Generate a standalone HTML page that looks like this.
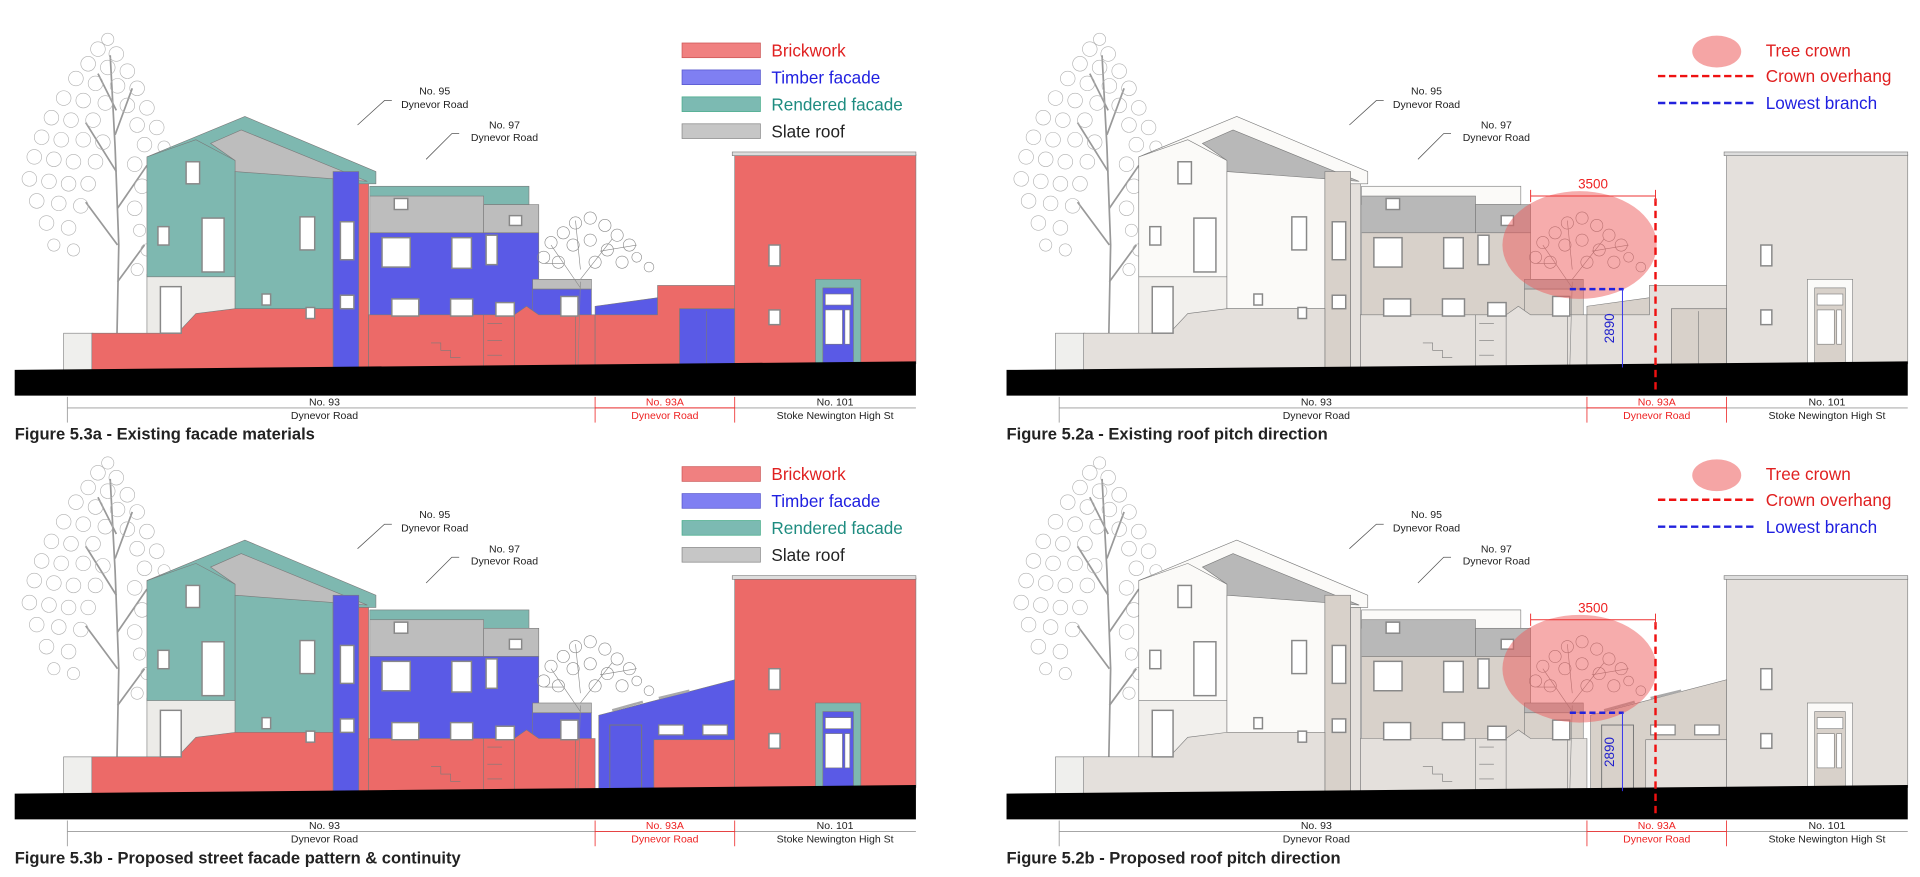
<!DOCTYPE html>
<html><head><meta charset="utf-8"><style>
html,body{margin:0;padding:0;background:#fff;}
svg{display:block;}
text{font-family:"Liberation Sans",Arial,sans-serif;}
.l{font-size:8.6px;fill:#222;text-anchor:middle;}
.cap{font-size:13.5px;font-weight:bold;fill:#222;}
.lg{font-size:14px;}
</style></head><body>
<svg width="1920" height="877" viewBox="0 0 1568 716" xmlns="http://www.w3.org/2000/svg">
<defs>
<g id="tree">
 <g stroke="#999" stroke-width="1.4" fill="none">
  <path d="M95 300 L97 200 L94 120 L90 45"/><path d="M96 200 L70 165 M96 170 L120 135 M95 140 L70 100 M94 110 L108 72 M96 230 L118 200 M95 90 L80 60"/>
 </g>
 <g fill="none" stroke="#b0b0b0" stroke-width="0.5">
  <circle cx="88" cy="32" r="5"/><circle cx="80" cy="40" r="6"/><circle cx="95" cy="44" r="6"/><circle cx="72" cy="52" r="6"/><circle cx="88" cy="55" r="6"/>
  <circle cx="104" cy="58" r="6"/><circle cx="62" cy="64" r="6"/><circle cx="78" cy="68" r="6"/><circle cx="96" cy="70" r="6"/><circle cx="112" cy="72" r="6"/>
  <circle cx="52" cy="80" r="6"/><circle cx="68" cy="82" r="6"/><circle cx="86" cy="84" r="6"/><circle cx="104" cy="86" r="6"/><circle cx="120" cy="88" r="6"/>
  <circle cx="42" cy="96" r="6"/><circle cx="58" cy="98" r="6"/><circle cx="76" cy="98" r="6"/><circle cx="112" cy="102" r="6"/><circle cx="128" cy="104" r="6"/>
  <circle cx="34" cy="112" r="6"/><circle cx="50" cy="114" r="6"/><circle cx="68" cy="114" r="6"/><circle cx="84" cy="116" r="6"/><circle cx="118" cy="118" r="6"/><circle cx="134" cy="120" r="5"/>
  <circle cx="28" cy="128" r="6"/><circle cx="44" cy="130" r="6"/><circle cx="60" cy="132" r="6"/><circle cx="78" cy="132" r="6"/><circle cx="110" cy="134" r="6"/><circle cx="128" cy="136" r="6"/>
  <circle cx="24" cy="146" r="6"/><circle cx="40" cy="148" r="6"/><circle cx="56" cy="150" r="6"/><circle cx="72" cy="150" r="6"/><circle cx="116" cy="152" r="6"/><circle cx="132" cy="154" r="5"/>
  <circle cx="30" cy="164" r="6"/><circle cx="48" cy="166" r="6"/><circle cx="66" cy="168" r="6"/><circle cx="110" cy="170" r="6"/><circle cx="126" cy="172" r="5"/>
  <circle cx="38" cy="182" r="6"/><circle cx="56" cy="186" r="6"/><circle cx="114" cy="188" r="5"/><circle cx="44" cy="200" r="5"/><circle cx="120" cy="204" r="5"/>
  <circle cx="60" cy="204" r="5"/><circle cx="112" cy="220" r="5"/><circle cx="128" cy="230" r="4"/>
 </g>
</g>
<g id="stree" stroke="#888" stroke-width="0.5" fill="none">
 <path d="M472 300 L474 230 M474 235 L450 200 M474 228 L500 195 M474 220 L470 180 M490 205 L520 200 M460 215 L445 215"/>
 <circle cx="450" cy="198" r="5"/><circle cx="460" cy="190" r="5"/><circle cx="470" cy="182" r="5"/><circle cx="482" cy="178" r="5"/><circle cx="494" cy="184" r="5"/>
 <circle cx="504" cy="192" r="5"/><circle cx="514" cy="200" r="5"/><circle cx="520" cy="210" r="4"/><circle cx="444" cy="210" r="5"/><circle cx="456" cy="214" r="5"/>
 <circle cx="468" cy="200" r="5"/><circle cx="482" cy="196" r="5"/><circle cx="496" cy="204" r="5"/><circle cx="508" cy="214" r="5"/><circle cx="486" cy="214" r="5"/><circle cx="530" cy="218" r="4"/>
</g>
<g id="bld" stroke="#7a7a7a" stroke-width="0.5">
 <rect x="52" y="272" width="24" height="30" fill="#efefed"/>
 <rect x="120" y="224" width="72" height="50" style="fill:var(--w)"/>
 <polygon points="120,128 200,95 307,140 307,150 272,150 272,140 192,140 192,226 120,226" style="fill:var(--r)"/>
 <rect x="192" y="140" width="80" height="112" style="fill:var(--r)"/>
 <polygon points="172,117 197,106 300,148 192,140 192,131" style="fill:var(--s)"/>
 <polyline points="120,128 160,114 192,131" fill="none"/>
 <rect x="272" y="140" width="21" height="162" style="fill:var(--t)"/>
 <rect x="293" y="150" width="8" height="152" style="fill:var(--b)"/>
 <rect x="302" y="152" width="130" height="15" style="fill:var(--r)"/>
 <rect x="302" y="160" width="93" height="30" style="fill:var(--s)"/>
 <rect x="395" y="167" width="45" height="23" style="fill:var(--s)"/>
 <rect x="302" y="190" width="138" height="68" style="fill:var(--t)"/>
 <rect x="435" y="228" width="48" height="8" style="fill:var(--s)"/>
 <rect x="435" y="236" width="48" height="22" style="fill:var(--t)"/>
 <polygon points="75,272 145,272 160,256 192,252 272,252 272,302 75,302" style="fill:var(--b)"/>
 <polygon points="301,257 420,257 430,250 440,257 486,257 486,300 301,301" style="fill:var(--b)"/>
 <path d="M352 280 h8 v6 h8 v6 h8 M398 264 h12 M398 278 h12 M398 290 h12 M395 257 v44 M420 257 v44 M470 257 v43" fill="none"/>
 <rect x="600" y="126" width="148" height="171" style="fill:var(--b)"/>
 <rect x="598" y="124" width="150" height="3" fill="#ddd"/>
 <rect x="666" y="228" width="37" height="69" style="fill:var(--r)"/>
 <rect x="672" y="235" width="25" height="62" style="fill:var(--t)"/>
 <rect x="674" y="240" width="21" height="9" fill="#fff"/><rect x="674" y="253" width="14" height="28" fill="#fff"/><rect x="690" y="253" width="4" height="28" fill="#fff"/>
 <g fill="#fff" stroke="#888" stroke-width="1.2">
  <rect x="152" y="132" width="11" height="18"/><rect x="165" y="178" width="18" height="44"/><rect x="129" y="185" width="9" height="15"/>
  <rect x="245" y="177" width="12" height="27"/><rect x="131" y="234" width="17" height="38"/><rect x="214" y="240" width="7" height="9"/>
  <rect x="250" y="251" width="7" height="9"/><rect x="278" y="181" width="11" height="31"/><rect x="278" y="241" width="11" height="11"/>
  <rect x="312" y="194" width="23" height="24"/><rect x="369" y="194" width="16" height="25"/><rect x="397" y="192" width="9" height="24"/>
  <rect x="320" y="244" width="22" height="14"/><rect x="368" y="244" width="18" height="14"/><rect x="405" y="247" width="15" height="11"/>
  <rect x="458" y="242" width="14" height="16"/><rect x="322" y="162" width="11" height="9"/><rect x="416" y="176" width="10" height="8"/>
  <rect x="628" y="200" width="9" height="17"/><rect x="628" y="253" width="9" height="12"/>
 </g>
</g>
<g id="x93">
 <polygon points="486,250 537,243 537,257 486,257" style="fill:var(--t)" stroke="#7a7a7a" stroke-width="0.5"/>
 <polygon points="486,257 537,257 537,233 600,233 600,300 486,300" style="fill:var(--b)" stroke="#7a7a7a" stroke-width="0.5"/>
 <rect x="555" y="252" width="45" height="47" style="fill:var(--t)" stroke="#7a7a7a" stroke-width="0.6"/>
 <line x1="577" y1="254" x2="577" y2="299" stroke="#7a7a7a" stroke-width="0.5"/>
</g>
<g id="p93">
 <polygon points="489,238 600,209 600,300 489,300" style="fill:var(--t)" stroke="#7a7a7a" stroke-width="0.5"/>
 <path d="M500 234 l25 -7 M538 224 l25 -6" stroke="#aaa" stroke-width="2"/>
 <rect x="498" y="246" width="26" height="54" style="fill:var(--t)" stroke="#777" stroke-width="0.8"/>
 <rect x="534" y="258" width="66" height="42" style="fill:var(--b)" stroke="#7a7a7a" stroke-width="0.5"/>
 <rect x="538" y="246" width="20" height="8" fill="#fff" stroke="#888"/><rect x="574" y="246" width="20" height="8" fill="#fff" stroke="#888"/>
</g>
<g id="ground">
 <polygon points="12,302 748,295 748,323 12,323" fill="#000"/>
 <line x1="55" y1="333" x2="748" y2="333" stroke="#999" stroke-width="0.7"/>
 <line x1="55" y1="324" x2="55" y2="345" stroke="#999" stroke-width="0.7"/>
 <line x1="486" y1="333" x2="600" y2="333" stroke="#e33" stroke-width="0.8"/>
 <line x1="486" y1="324" x2="486" y2="345" stroke="#e33" stroke-width="0.7"/>
 <line x1="600" y1="324" x2="600" y2="345" stroke="#e33" stroke-width="0.7"/>
</g>
</defs>

<g>
 <use href="#tree"/>
 <use href="#bld" style="--b:#ec6a68;--t:#5a5ae6;--r:#7eb8b0;--s:#bdbdbd;--w:#ecebe8"/>
 <use href="#stree"/>
 <use href="#x93" style="--b:#ec6a68;--t:#5a5ae6;--r:#7eb8b0"/>
 <use href="#ground"/>
</g>
<g transform="translate(0,346)">
 <use href="#tree"/>
 <use href="#bld" style="--b:#ec6a68;--t:#5a5ae6;--r:#7eb8b0;--s:#bdbdbd;--w:#ecebe8"/>
 <use href="#stree"/>
 <use href="#p93" style="--b:#ec6a68;--t:#5a5ae6"/>
 <use href="#ground"/>
</g>
<g transform="translate(810,0)">
 <use href="#tree"/>
 <use href="#bld" style="--b:#e4e0dc;--t:#d8d1ca;--r:#fbfaf8;--s:#b8b8b8;--w:#f2f0ed"/>
 <use href="#stree"/>
 <use href="#x93" style="--b:#e4e0dc;--t:#d8d1ca;--r:#fbfaf8"/>
 <use href="#ground"/>
</g>
<g transform="translate(810,346)">
 <use href="#tree"/>
 <use href="#bld" style="--b:#e4e0dc;--t:#d8d1ca;--r:#fbfaf8;--s:#b8b8b8;--w:#f2f0ed"/>
 <use href="#stree"/>
 <use href="#p93" style="--b:#e4e0dc;--t:#d8d1ca"/>
 <use href="#ground"/>
</g>

<g>
 <ellipse cx="1290" cy="200" rx="63" ry="44" fill="rgba(238,90,90,0.5)"/>
 <line x1="1352" y1="162" x2="1352" y2="318" stroke="#e11" stroke-width="2" stroke-dasharray="6,4"/>
 <path d="M1250 160 H1352 M1250 155 v10 M1352 155 v10" stroke="#e33" stroke-width="0.8"/>
 <text x="1301" y="154" font-size="11" fill="#e22" text-anchor="middle">3500</text>
 <line x1="1282" y1="236" x2="1326" y2="236" stroke="#22d" stroke-width="2" stroke-dasharray="5,3"/>
 <line x1="1325" y1="236" x2="1325" y2="300" stroke="#33e" stroke-width="0.8"/>
 <text transform="translate(1318,268) rotate(-90)" font-size="11" fill="#22c" text-anchor="middle">2890</text>
</g>
<g transform="translate(0,346)">
 <ellipse cx="1290" cy="200" rx="63" ry="44" fill="rgba(238,90,90,0.5)"/>
 <line x1="1352" y1="162" x2="1352" y2="318" stroke="#e11" stroke-width="2" stroke-dasharray="6,4"/>
 <path d="M1250 160 H1352 M1250 155 v10 M1352 155 v10" stroke="#e33" stroke-width="0.8"/>
 <text x="1301" y="154" font-size="11" fill="#e22" text-anchor="middle">3500</text>
 <line x1="1282" y1="236" x2="1326" y2="236" stroke="#22d" stroke-width="2" stroke-dasharray="5,3"/>
 <line x1="1325" y1="236" x2="1325" y2="300" stroke="#33e" stroke-width="0.8"/>
 <text transform="translate(1318,268) rotate(-90)" font-size="11" fill="#22c" text-anchor="middle">2890</text>
</g>

<g>
 <text class="l" x="355" y="77">No. 95</text><text class="l" x="355" y="88">Dynevor Road</text>
 <path d="M320 82 h-6 l-22 20" stroke="#555" fill="none" stroke-width="0.6"/>
 <text class="l" x="412" y="105">No. 97</text><text class="l" x="412" y="115">Dynevor Road</text>
 <path d="M375 109 h-6 l-21 21" stroke="#555" fill="none" stroke-width="0.6"/>
 <text class="l" x="265" y="331">No. 93</text><text class="l" x="265" y="342">Dynevor Road</text>
 <text class="l" x="543" y="331" style="fill:#e22">No. 93A</text><text class="l" x="543" y="342" style="fill:#e22">Dynevor Road</text>
 <text class="l" x="682" y="331">No. 101</text><text class="l" x="682" y="342">Stoke Newington High St</text>
 <text class="cap" x="12" y="359">Figure 5.3a - Existing facade materials</text>
 <rect x="557" y="35" width="64" height="12" fill="#f08080" stroke="#c55" stroke-width="0.6"/>
 <rect x="557" y="57" width="64" height="12" fill="#7f7ff2" stroke="#55c" stroke-width="0.6"/>
 <rect x="557" y="79" width="64" height="12" fill="#7cbab2" stroke="#4a8" stroke-width="0.6"/>
 <rect x="557" y="101" width="64" height="12" fill="#c6c6c6" stroke="#888" stroke-width="0.6"/>
 <text class="lg" x="630" y="46" fill="#e02020">Brickwork</text>
 <text class="lg" x="630" y="68" fill="#2020e0">Timber facade</text>
 <text class="lg" x="630" y="90" fill="#1e8c80">Rendered facade</text>
 <text class="lg" x="630" y="112" fill="#222">Slate roof</text>
</g>
<g transform="translate(0,346)">
 <text class="l" x="355" y="77">No. 95</text><text class="l" x="355" y="88">Dynevor Road</text>
 <path d="M320 82 h-6 l-22 20" stroke="#555" fill="none" stroke-width="0.6"/>
 <text class="l" x="412" y="105">No. 97</text><text class="l" x="412" y="115">Dynevor Road</text>
 <path d="M375 109 h-6 l-21 21" stroke="#555" fill="none" stroke-width="0.6"/>
 <text class="l" x="265" y="331">No. 93</text><text class="l" x="265" y="342">Dynevor Road</text>
 <text class="l" x="543" y="331" style="fill:#e22">No. 93A</text><text class="l" x="543" y="342" style="fill:#e22">Dynevor Road</text>
 <text class="l" x="682" y="331">No. 101</text><text class="l" x="682" y="342">Stoke Newington High St</text>
 <text class="cap" x="12" y="359">Figure 5.3b - Proposed street facade pattern &amp; continuity</text>
 <rect x="557" y="35" width="64" height="12" fill="#f08080" stroke="#c55" stroke-width="0.6"/>
 <rect x="557" y="57" width="64" height="12" fill="#7f7ff2" stroke="#55c" stroke-width="0.6"/>
 <rect x="557" y="79" width="64" height="12" fill="#7cbab2" stroke="#4a8" stroke-width="0.6"/>
 <rect x="557" y="101" width="64" height="12" fill="#c6c6c6" stroke="#888" stroke-width="0.6"/>
 <text class="lg" x="630" y="46" fill="#e02020">Brickwork</text>
 <text class="lg" x="630" y="68" fill="#2020e0">Timber facade</text>
 <text class="lg" x="630" y="90" fill="#1e8c80">Rendered facade</text>
 <text class="lg" x="630" y="112" fill="#222">Slate roof</text>
</g>
<g transform="translate(810,0)">
 <text class="l" x="355" y="77">No. 95</text><text class="l" x="355" y="88">Dynevor Road</text>
 <path d="M320 82 h-6 l-22 20" stroke="#555" fill="none" stroke-width="0.6"/>
 <text class="l" x="412" y="105">No. 97</text><text class="l" x="412" y="115">Dynevor Road</text>
 <path d="M375 109 h-6 l-21 21" stroke="#555" fill="none" stroke-width="0.6"/>
 <text class="l" x="265" y="331">No. 93</text><text class="l" x="265" y="342">Dynevor Road</text>
 <text class="l" x="543" y="331" style="fill:#e22">No. 93A</text><text class="l" x="543" y="342" style="fill:#e22">Dynevor Road</text>
 <text class="l" x="682" y="331">No. 101</text><text class="l" x="682" y="342">Stoke Newington High St</text>
 <text class="cap" x="12" y="359">Figure 5.2a - Existing roof pitch direction</text>
 <ellipse cx="592" cy="42" rx="20" ry="13" fill="#f5a5a5"/>
 <line x1="544" y1="62" x2="622" y2="62" stroke="#e11" stroke-width="2" stroke-dasharray="6,3"/>
 <line x1="544" y1="84" x2="622" y2="84" stroke="#22d" stroke-width="2" stroke-dasharray="6,3"/>
 <text class="lg" x="632" y="46" fill="#e02020">Tree crown</text>
 <text class="lg" x="632" y="67" fill="#e02020">Crown overhang</text>
 <text class="lg" x="632" y="89" fill="#2020e0">Lowest branch</text>
</g>
<g transform="translate(810,346)">
 <text class="l" x="355" y="77">No. 95</text><text class="l" x="355" y="88">Dynevor Road</text>
 <path d="M320 82 h-6 l-22 20" stroke="#555" fill="none" stroke-width="0.6"/>
 <text class="l" x="412" y="105">No. 97</text><text class="l" x="412" y="115">Dynevor Road</text>
 <path d="M375 109 h-6 l-21 21" stroke="#555" fill="none" stroke-width="0.6"/>
 <text class="l" x="265" y="331">No. 93</text><text class="l" x="265" y="342">Dynevor Road</text>
 <text class="l" x="543" y="331" style="fill:#e22">No. 93A</text><text class="l" x="543" y="342" style="fill:#e22">Dynevor Road</text>
 <text class="l" x="682" y="331">No. 101</text><text class="l" x="682" y="342">Stoke Newington High St</text>
 <text class="cap" x="12" y="359">Figure 5.2b - Proposed roof pitch direction</text>
 <ellipse cx="592" cy="42" rx="20" ry="13" fill="#f5a5a5"/>
 <line x1="544" y1="62" x2="622" y2="62" stroke="#e11" stroke-width="2" stroke-dasharray="6,3"/>
 <line x1="544" y1="84" x2="622" y2="84" stroke="#22d" stroke-width="2" stroke-dasharray="6,3"/>
 <text class="lg" x="632" y="46" fill="#e02020">Tree crown</text>
 <text class="lg" x="632" y="67" fill="#e02020">Crown overhang</text>
 <text class="lg" x="632" y="89" fill="#2020e0">Lowest branch</text>
</g>
</svg>
</body></html>
